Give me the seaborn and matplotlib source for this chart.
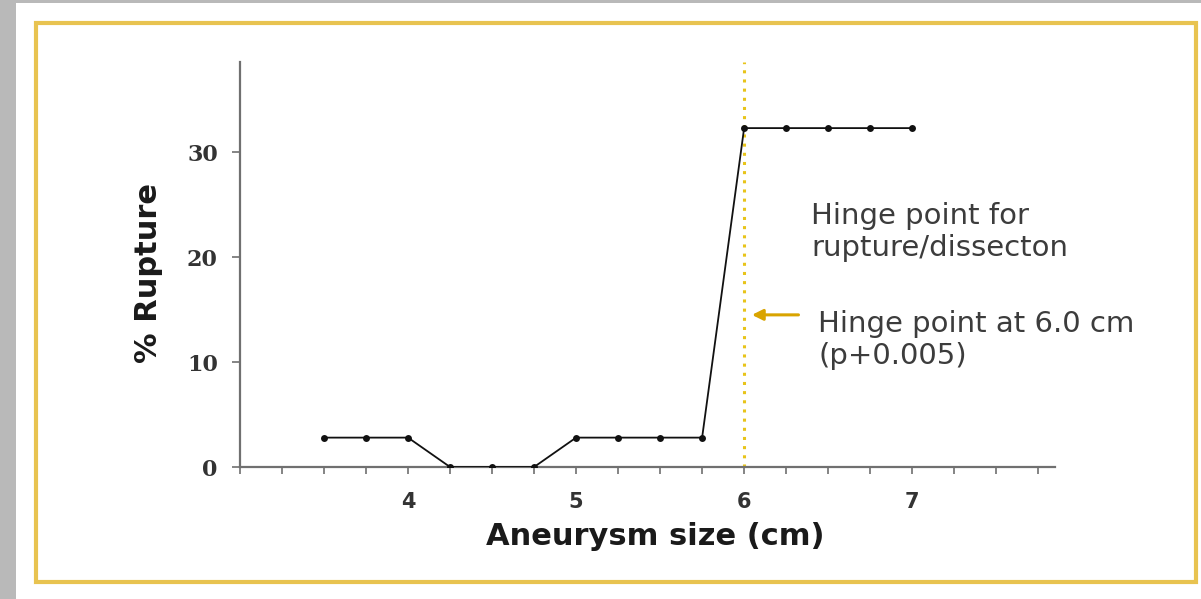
import pandas as pd
import matplotlib
matplotlib.use("Agg")
import matplotlib.pyplot as plt
import seaborn as sns
from matplotlib.patches import Rectangle

sns.set_theme(style="white")
plt.rcParams["font.family"] = ["DejaVu Sans"]

# data
size_cm = [3.5, 3.75, 4.0, 4.25, 4.5, 4.75, 5.0, 5.25, 5.5, 5.75,
           6.0, 6.25, 6.5, 6.75, 7.0]
rupture_pct = [2.8, 2.8, 2.8, 0.0, 0.0, 0.0, 2.8, 2.8, 2.8, 2.8,
               32.3, 32.3, 32.3, 32.3, 32.3]
y_ticks = [0, 10, 20, 30]
x_major = [4, 5, 6, 7]
x_minor = [3.0 + 0.25 * i for i in range(20)]
hinge_x = 6.0

df = pd.DataFrame({"size": size_cm, "rupture": rupture_pct})

GOLD = "#e8c350"
TEXT = "#3c3c3c"

fig = plt.figure(figsize=(12.01, 5.99), dpi=100)
fig.patch.set_facecolor("white")

# page background strips and golden frame
fig.add_artist(Rectangle((0, 0), 16 / 1201, 1, transform=fig.transFigure,
                         facecolor="#b9b9b9", edgecolor="none"))
fig.add_artist(Rectangle((0, 1 - 3 / 599), 1, 3 / 599, transform=fig.transFigure,
                         facecolor="#b9b9b9", edgecolor="none"))
fig.add_artist(Rectangle((36 / 1201, 1 - 582 / 599), (1196 - 36) / 1201, (582 - 23) / 599,
                         transform=fig.transFigure, facecolor="none",
                         edgecolor=GOLD, linewidth=3))

ax = fig.add_axes([240 / 1201, 1 - 467 / 599, (1055 - 240) / 1201, (467 - 62) / 599])
ax.set_facecolor("none")

ax.axvline(hinge_x, color="#e8c41a", linestyle=(0, (1, 2)), linewidth=2.2, zorder=1)
sns.lineplot(data=df, x="size", y="rupture", ax=ax, color="#111111", linewidth=1.3,
             marker="o", markersize=5, markeredgewidth=0, zorder=3)

ax.set_xlim(3.0, 7.85)
ax.set_ylim(0, 38.6)
ax.set_xticks(x_major)
ax.set_xticks(x_minor, minor=True)
ax.set_yticks(y_ticks)
ax.set_xticklabels([str(v) for v in x_major], fontweight="bold", fontsize=15, color="#333333")
ax.set_yticklabels([str(v) for v in y_ticks], family=["DejaVu Serif"], fontsize=16,
                   fontweight="bold", color="#333333")

for side in ["top", "right"]:
    ax.spines[side].set_visible(False)
for side in ["left", "bottom"]:
    ax.spines[side].set_color("#707070")
    ax.spines[side].set_linewidth(1.6)

ax.tick_params(axis="y", which="major", direction="out", length=6, width=1.2,
               color="#707070", left=True, pad=10)
ax.tick_params(axis="x", which="both", direction="out", length=5, width=1.2,
               color="#707070", bottom=True, pad=13)

ax.set_xlabel("Aneurysm size (cm)", fontsize=22, fontweight="bold", color="#1a1a1a")
ax.set_ylabel("% Rupture", fontsize=22, fontweight="bold", color="#1a1a1a")
ax.xaxis.set_label_coords(0.51, -0.136)
ax.yaxis.set_label_coords(-0.094, 0.48)

ax.text(6.4, 22.4, "Hinge point for\nrupture/dissecton", fontsize=21, color=TEXT,
        ha="left", va="center", linespacing=1.15)
ax.text(6.44, 12.1, "Hinge point at 6.0 cm\n(p+0.005)", fontsize=21, color=TEXT,
        ha="left", va="center", linespacing=1.15)
ax.annotate("", xy=(6.03, 14.5), xytext=(6.34, 14.5),
            arrowprops=dict(arrowstyle="-|>", color="#d9a400", lw=2.2,
                            mutation_scale=16))

fig.savefig("out.png", dpi=100)
